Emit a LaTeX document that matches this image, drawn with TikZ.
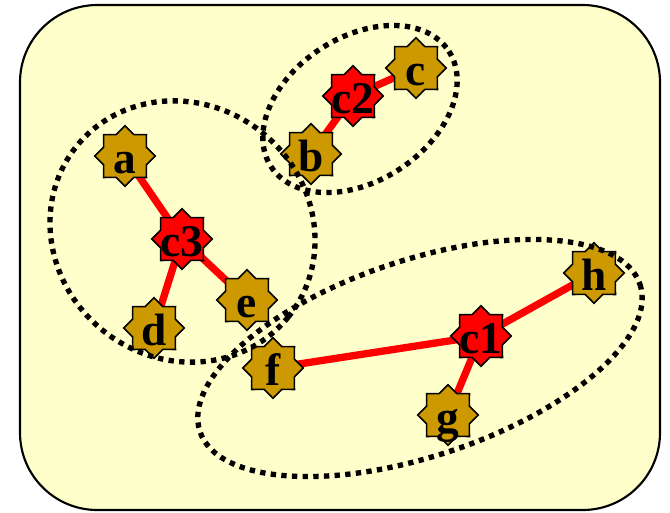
\documentclass[tikz,border=0pt]{standalone}
\usepackage{fontspec}
\setmainfont{Liberation Serif}
\usetikzlibrary{shapes.geometric}
\pgfdeclarelayer{background}
\pgfsetlayers{background,main}

\definecolor{paper}{RGB}{255,255,204}
\definecolor{gold}{RGB}{204,153,0}
\definecolor{hub}{RGB}{255,0,0}

% label set on a zero-size box so the star keeps its own size
\newcommand{\starlabel}[1]{\makebox[0pt]{\smash{\raisebox{-12.75pt}{#1}}}}

\tikzset{
  vertex/.style={shape=star, star points=8, star point ratio=1.31,
    minimum size=45.5pt, inner sep=0pt, outer sep=0pt,
    draw=black, line width=1.2pt, fill=gold,
    font=\fontsize{34}{34}\selectfont\bfseries},
  hubvertex/.style={vertex, fill=hub},
  link/.style={draw=hub, line width=5.5pt},
  cluster/.style={draw=black, line width=4pt, dash pattern=on 4pt off 4pt},
  panel/.style={draw=black, line width=1.6pt, fill=paper, rounded corners=58pt}
}

\begin{document}
\begin{tikzpicture}[x=0.75pt, y=-0.75pt]
  \useasboundingbox (0,0) rectangle (670,512);

  % vertices
  \node[vertex]    (a)  at (125,156) {\starlabel{a}};
  \node[hubvertex] (c3) at (182,239) {\starlabel{c3}};
  \node[vertex]    (d)  at (154,328) {\starlabel{d}};
  \node[vertex]    (e)  at (247,300) {\starlabel{e}};
  \node[vertex]    (b)  at (311,154) {\starlabel{b}};
  \node[hubvertex] (c2) at (353,96)  {\starlabel{c2}};
  \node[vertex]    (c)  at (416,68)  {\starlabel{c}};
  \node[vertex]    (h)  at (594,273) {\starlabel{h}};
  \node[hubvertex] (c1) at (481,336) {\starlabel{c1}};
  \node[vertex]    (f)  at (273,368) {\starlabel{f}};
  \node[vertex]    (g)  at (448,415) {\starlabel{g}};

  \begin{pgfonlayer}{background}
    \path[panel] (20,5) rectangle (660,510);
    \draw[link] (a.center) -- (c3.center);
    \draw[link] (c3.center) -- (d.center);
    \draw[link] (c3.center) -- (e.center);
    \draw[link] (b.center) -- (c2.center);
    \draw[link] (c2.center) -- (c.center);
    \draw[link] (f.center) -- (c1.center);
    \draw[link] (c1.center) -- (h.center);
    \draw[link] (c1.center) -- (g.center);
  \end{pgfonlayer}

  % clusters
  \coordinate (k3) at (182.5,231.5);
  \coordinate (k2) at (360,109);
  \coordinate (k1) at (420,358);
  \draw[cluster, rotate around={-39:(k3)}] (k3) ellipse [x radius=136, y radius=127];
  \draw[cluster, rotate around={33:(k2)}]  (k2) ellipse [x radius=106, y radius=72];
  \draw[cluster, rotate around={18.5:(k1)}] (k1) ellipse [x radius=232, y radius=98];
\end{tikzpicture}
\end{document}
